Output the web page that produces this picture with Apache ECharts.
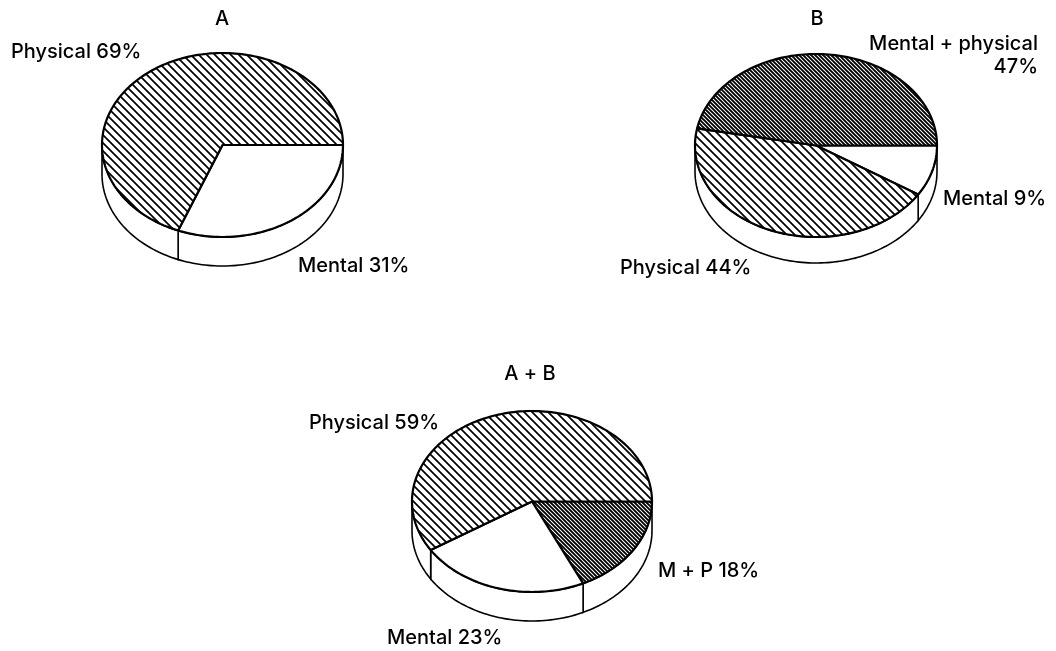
<!DOCTYPE html>
<html>
<head>
<meta charset="utf-8">
<style>
  html, body { margin: 0; padding: 0; background: #fff; }
  #chart { width: 1056px; height: 651px; }
</style>
<script src="https://cdn.jsdelivr.net/npm/echarts@6/dist/echarts.min.js"></script>
</head>
<body>
<div id="chart"></div>
<script>
// slices run clockwise from 3 o'clock
const pieNames = ['A', 'B', 'A + B']
const sliceNames = [
  ['Mental', 'Physical'],
  ['Mental', 'Physical', 'Mental + physical'],
  ['M + P', 'Mental', 'Physical']
]
const sliceValues = [
  [31, 69],
  [9, 44, 47],
  [18, 23, 59]
]

// layout only, no data
const pieBoxes = [
  { cx: 222.5, cy: 145, rx: 120.5, ry: 92, depth: 29 },
  { cx: 816, cy: 145.5, rx: 121, ry: 91.5, depth: 26 },
  { cx: 532, cy: 501.5, rx: 120, ry: 90.5, depth: 29 }
]
const titleSpots = [[222, 19], [817, 19], [530, 374]]
const labelSpots = [
  [[298, 266, 'left'], [11, 52, 'left']],
  [[943, 199, 'left'], [620, 268, 'left'], [1038, 55, 'right']],
  [[658, 571, 'left'], [387, 638, 'left'], [309, 423, 'left']]
]
const FONT = '500 20px Inter, "Liberation Sans", Arial, sans-serif'

function hatchTile(size, width, count) {
  const c = document.createElement('canvas')
  c.width = c.height = size
  const ctx = c.getContext('2d')
  ctx.fillStyle = '#fff'
  ctx.fillRect(0, 0, size, size)
  ctx.strokeStyle = '#000'
  ctx.lineWidth = width
  ctx.beginPath()
  for (let k = -count; k <= count; k++) {
    const off = k * size / count
    ctx.moveTo(off - size, -size)
    ctx.lineTo(off + 2 * size, 2 * size)
  }
  ctx.stroke()
  return c
}
const physicalFill = { image: hatchTile(8, 1.7, 1), repeat: 'repeat' }
const bothFill = { image: hatchTile(8, 1.9, 2), repeat: 'repeat' }

function fillFor(name) {
  if (name === 'Physical') return physicalFill
  if (name === 'Mental') return '#fff'
  return bothFill
}

function arcPoints(box, from, to, drop) {
  const pts = []
  const n = Math.max(2, Math.ceil((to - from) / 1.5))
  for (let i = 0; i <= n; i++) {
    const t = (from + (to - from) * i / n) * Math.PI / 180
    pts.push([box.cx + box.rx * Math.cos(t), box.cy + box.ry * Math.sin(t) + drop])
  }
  return pts
}

function makeSeries(pieIdx) {
  let sum = 0
  const rows = sliceValues[pieIdx].map((v) => {
    const row = [sum * 3.6, (sum + v) * 3.6]
    sum += v
    return row
  })
  const box = pieBoxes[pieIdx]
  return {
    type: 'custom',
    coordinateSystem: 'none',
    silent: true,
    data: rows,
    renderItem: (params, api) => {
      const start = api.value(0)
      const end = api.value(1)
      const children = []
      // side wall, only the front half shows
      const a = Math.max(start, 0)
      const b = Math.min(end, 180)
      if (b > a) {
        const topEdge = arcPoints(box, a, b, 0)
        const bottomEdge = arcPoints(box, a, b, box.depth).reverse()
        children.push({
          type: 'polygon',
          shape: { points: topEdge.concat(bottomEdge) },
          style: { fill: '#fff', stroke: '#000', lineWidth: 1.6 }
        })
      }
      children.push({
        type: 'polygon',
        shape: { points: [[box.cx, box.cy]].concat(arcPoints(box, start, end, 0)) },
        style: {
          fill: fillFor(sliceNames[pieIdx][params.dataIndex]),
          stroke: '#000',
          lineWidth: 2.2,
          lineJoin: 'round'
        }
      })
      return { type: 'group', children }
    }
  }
}

const textItems = []
pieNames.forEach((name, i) => {
  textItems.push({
    type: 'text',
    x: titleSpots[i][0],
    y: titleSpots[i][1],
    style: { text: name, font: FONT, fill: '#000', align: 'center', verticalAlign: 'middle' }
  })
  sliceNames[i].forEach((slice, j) => {
    const [x, y, align] = labelSpots[i][j]
    const joined = slice.length > 12 ? `${slice}\n${sliceValues[i][j]}%` : `${slice} ${sliceValues[i][j]}%`
    textItems.push({
      type: 'text',
      x,
      y,
      style: { text: joined, font: FONT, fill: '#000', align, verticalAlign: 'middle', lineHeight: 23 }
    })
  })
})

const chart = echarts.init(document.getElementById('chart'), null, { renderer: 'canvas' })
chart.setOption({
  animation: false,
  backgroundColor: '#fff',
  series: pieNames.map((_, i) => makeSeries(i)),
  graphic: textItems
})
</script>
</body>
</html>
